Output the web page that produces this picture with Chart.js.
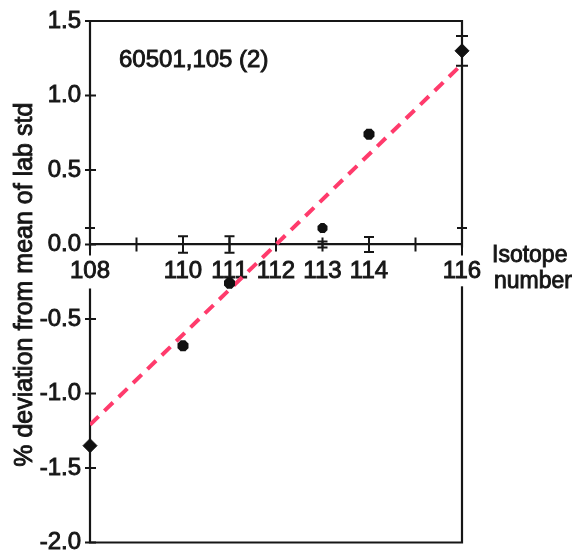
<!DOCTYPE html>
<html>
<head>
<meta charset="utf-8">
<script src="https://cdn.jsdelivr.net/npm/chart.js@4/dist/chart.umd.min.js"></script>
<style>
  html, body { margin: 0; padding: 0; background: #fff; }
  #wrap { width: 578px; height: 553px; position: relative; }
</style>
</head>
<body>
<div id="wrap"><canvas id="chart" width="578" height="553"></canvas></div>
<script>
// Sample 60501,105 (2): % deviation from the lab standard mean per isotope
const isotopes = [108, 110, 111, 113, 114, 116];
const deviation = [-1.35, -0.68, -0.26, 0.11, 0.74, 1.30];
const deviationErr = [0, 0, 0, 0, 0, 0.10];
const markerStyles = ['rectRot', 'star', 'star', 'star', 'star', 'rectRot'];

// Lab standard reproducibility, plotted around zero
const stdIsotopes = [108, 110, 111, 113, 114, 116];
const stdErr = [0.11, 0.055, 0.055, 0.02, 0.05, 0.11];

// Linear fit through the sample deviations
const fitIsotopes = [108, 116];
const fitDeviation = [-1.21, 1.21];

// Axis ticks
const xTickValues = [108, 109, 110, 111, 112, 113, 114, 115, 116];
const xTickLabels = ['108', '', '110', '111', '112', '113', '114', '', '116'];
const yMin = -2.0, yMax = 1.5, yStep = 0.5;

const sampleLabel = '60501,105 (2)';
const yTitle = '% deviation from mean of lab std';
const xTitleLines = ['Isotope', 'number'];

const FONT = "'Liberation Sans', Arial, Helvetica, sans-serif";
const INK = '#161616';
const TEXT_STROKE = 0.9;

const toXY = (xs, ys) => xs.map((x, i) => ({ x: x, y: ys[i] }));

function errorBar(ctx, xs, ys, x, center, err, cap) {
  const px = xs.getPixelForValue(x);
  const top = ys.getPixelForValue(center + err);
  const bot = ys.getPixelForValue(center - err);
  ctx.beginPath();
  ctx.moveTo(px, top); ctx.lineTo(px, bot);
  ctx.moveTo(px - cap, top); ctx.lineTo(px + cap, top);
  ctx.moveTo(px - cap, bot); ctx.lineTo(px + cap, bot);
  ctx.stroke();
}

function heavyText(ctx, text, x, y) {
  ctx.fillText(text, x, y);
  ctx.strokeText(text, x, y);
}

const framePlugin = {
  id: 'frame',
  beforeDraw(chart) {
    const { ctx, chartArea: a, scales: { x, y } } = chart;
    const y0 = y.getPixelForValue(0);
    ctx.save();
    ctx.strokeStyle = INK;
    ctx.lineWidth = 2.2;
    ctx.lineCap = 'square';
    // box with a break where the end labels sit
    ctx.beginPath();
    ctx.moveTo(a.left, y0 + 4); ctx.lineTo(a.left, a.top); ctx.lineTo(a.right, a.top); ctx.lineTo(a.right, y0 + 2);
    ctx.moveTo(a.left, y0 + 45); ctx.lineTo(a.left, a.bottom); ctx.lineTo(a.right, a.bottom); ctx.lineTo(a.right, y0 + 42);
    ctx.stroke();

    // tick marks crossing the axes
    ctx.lineCap = 'butt';
    ctx.lineWidth = 2;
    ctx.beginPath();
    xTickValues.forEach(v => {
      const px = x.getPixelForValue(v);
      ctx.moveTo(px, y0 - 7); ctx.lineTo(px, y0 + 7);
    });
    y.ticks.forEach(t => {
      const py = y.getPixelForValue(t.value);
      ctx.moveTo(a.left - 5, py); ctx.lineTo(a.left + 6, py);
    });
    ctx.stroke();

    // lab standard error bars at zero
    stdIsotopes.forEach((iso, i) => errorBar(ctx, x, y, iso, 0, stdErr[i], 5));
    // sample error bars
    isotopes.forEach((iso, i) => {
      if (deviationErr[i] > 0) errorBar(ctx, x, y, iso, deviation[i], deviationErr[i], 6);
    });
    ctx.restore();
  },
  afterDraw(chart) {
    const { ctx, chartArea: a, scales: { y } } = chart;
    const y0 = y.getPixelForValue(0);
    ctx.save();
    ctx.fillStyle = INK;
    ctx.strokeStyle = INK;
    ctx.lineWidth = TEXT_STROKE;
    ctx.textAlign = 'left';
    ctx.textBaseline = 'alphabetic';
    ctx.font = '24px ' + FONT;
    heavyText(ctx, sampleLabel, a.left + 29, a.top + 46);
    ctx.font = '23px ' + FONT;
    heavyText(ctx, xTitleLines[0], a.right + 30, y0 + 17);
    heavyText(ctx, xTitleLines[1], a.right + 32, y0 + 43);

    // y-axis title, rotated
    ctx.translate(25, (a.top + a.bottom) / 2 + 3);
    ctx.rotate(-Math.PI / 2);
    ctx.textAlign = 'center';
    ctx.textBaseline = 'middle';
    ctx.font = '25px ' + FONT;
    heavyText(ctx, yTitle, 0, 0);
    ctx.restore();
  }
};

new Chart(document.getElementById('chart'), {
  type: 'scatter',
  data: {
    datasets: [
      {
        type: 'line',
        data: toXY(fitIsotopes, fitDeviation),
        borderColor: '#ff3b6c',
        borderWidth: 4,
        borderDash: [12, 8],
        pointRadius: 0,
        fill: false,
        order: 2
      },
      {
        data: toXY(isotopes, deviation),
        pointStyle: markerStyles,
        pointRadius: [7, 5.5, 5.5, 5, 5.5, 7],
        pointBackgroundColor: '#111',
        pointBorderColor: '#111',
        pointBorderWidth: [1, 5, 5, 4.5, 5, 1],
        showLine: false,
        clip: false,
        order: 1
      }
    ]
  },
  options: {
    responsive: false,
    animation: false,
    events: [],
    layout: { padding: { left: 0, right: 116, top: 21, bottom: 6 } },
    plugins: { legend: { display: false }, tooltip: { enabled: false } },
    scales: {
      x: {
        type: 'linear',
        position: { y: 0 },
        min: 108,
        max: 116,
        afterBuildTicks(scale) {
          scale.ticks = xTickValues.map(v => ({ value: v }));
        },
        ticks: {
          autoSkip: false,
          maxRotation: 0,
          padding: 12,
          color: INK,
          textStrokeColor: INK,
          textStrokeWidth: TEXT_STROKE,
          font: { family: FONT, size: 24 },
          callback(value) {
            const i = xTickValues.indexOf(value);
            return i >= 0 ? xTickLabels[i] : '';
          },
          showLabelBackdrop: true,
          backdropColor: '#ffffff',
          backdropPadding: 1
        },
        grid: { display: false, drawTicks: false },
        border: { display: true, color: INK, width: 2.2 }
      },
      y: {
        type: 'linear',
        position: 'left',
        min: yMin,
        max: yMax,
        ticks: {
          stepSize: yStep,
          padding: 9,
          color: INK,
          textStrokeColor: INK,
          textStrokeWidth: TEXT_STROKE,
          font: { family: FONT, size: 24 },
          callback: v => (Math.round(v * 10) / 10).toFixed(1)
        },
        grid: { display: false, drawTicks: false },
        border: { display: false },
        afterFit(scale) {
          scale.width = 90;
          scale.paddingTop = 0;
          scale.paddingBottom = 0;
        }
      }
    }
  },
  plugins: [framePlugin]
});
</script>
</body>
</html>
